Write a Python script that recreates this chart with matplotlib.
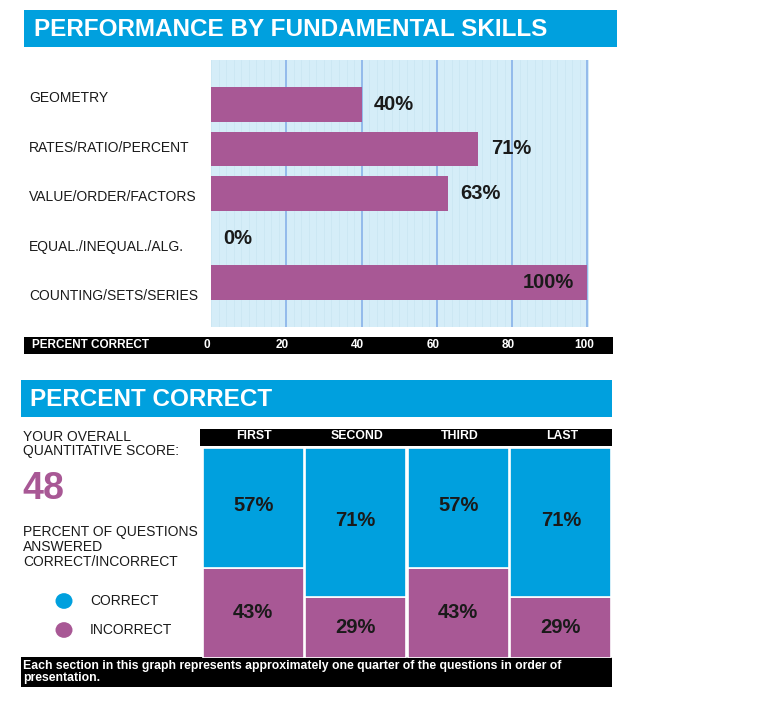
import numpy as np
import matplotlib
matplotlib.use("Agg")
import matplotlib.pyplot as plt
from matplotlib.patches import Rectangle, Circle
import matplotlib.transforms as mtransforms

plt.rcParams['font.family'] = ['Liberation Sans', 'DejaVu Sans']

# ---- data ----
skills = ['GEOMETRY', 'RATES/RATIO/PERCENT', 'VALUE/ORDER/FACTORS',
          'EQUAL./INEQUAL./ALG.', 'COUNTING/SETS/SERIES']
skill_pct = [40, 71, 63, 0, 100]
x_ticks = [0, 20, 40, 60, 80, 100]

sections = ['FIRST', 'SECOND', 'THIRD', 'LAST']
correct = [57, 71, 57, 71]
incorrect = [43, 29, 43, 29]
overall_score = 48

BLUE = '#00A0DE'
PURPLE = '#A85895'
LIGHT = '#D5EDF8'
GRID = '#8DB6EA'
TXT = '#1a1a1a'

W, H = 760, 702
fig = plt.figure(figsize=(W / 100, H / 100), dpi=100)


def rect(x0, y0, x1, y1):
    # pixel box -> figure fraction [left, bottom, width, height]
    return [x0 / W, 1 - y1 / H, (x1 - x0) / W, (y1 - y0) / H]


def fig_box(x0, y0, x1, y1, color):
    l, b, w, h = rect(x0, y0, x1, y1)
    fig.patches.append(Rectangle((l, b), w, h, transform=fig.transFigure,
                                 facecolor=color, edgecolor='none', zorder=-1))


def fig_text(x, y, s, **kw):
    fig.text(x / W, 1 - y / H, s, **kw)


# ---- top section: skills ----
fig_box(24, 10, 617, 47, BLUE)
fig_text(34, 29, 'PERFORMANCE BY FUNDAMENTAL SKILLS', color='white',
         fontsize=17.5, fontweight='bold', va='center')

ax = fig.add_axes(rect(211, 60, 589, 327))
ax.set_facecolor(LIGHT)
ypos = np.arange(len(skills))
ax.barh(ypos, skill_pct, height=0.78, color=PURPLE, zorder=3)
ax.set_xlim(0, 100.4)
ax.set_ylim(5, -1)
ax.set_xticks(x_ticks[1:])
ax.set_xticks(np.arange(0, 100, 2), minor=True)
ax.grid(axis='x', which='major', color=GRID, lw=1.3, zorder=1)
ax.grid(axis='x', which='minor', color='#CBE6F3', lw=0.6, zorder=0.5)
ax.tick_params(which='both', length=0, labelbottom=False, labelleft=False)
for s in ax.spines.values():
    s.set_visible(False)

for i, v in enumerate(skill_pct):
    if v >= 100:
        ax.annotate(f'{v}%', (v, i), xytext=(-10, 0), textcoords='offset points',
                    ha='right', va='center', fontsize=14.5, fontweight='bold',
                    color=TXT, zorder=4)
    else:
        ax.annotate(f'{v}%', (v, i), xytext=(9, 0), textcoords='offset points',
                    ha='left', va='center', fontsize=14.5, fontweight='bold',
                    color=TXT, zorder=4)

for i, name in enumerate(skills):
    fig_text(29, 98 + i * 49.6, name, fontsize=10, va='center', color=TXT)

# axis strip
fig_box(24, 337, 613, 354, 'black')
fig_text(32, 345.5, 'PERCENT CORRECT', color='white', fontsize=8.5,
         fontweight='bold', va='center')
trans = mtransforms.blended_transform_factory(ax.transData, fig.transFigure)
for t in x_ticks:
    ax.text(t - 1, 1 - 345.5 / H, str(t), transform=trans, color='white',
            fontsize=8.5, fontweight='bold', ha='center', va='center',
            clip_on=False)

# ---- bottom section: percent correct ----
fig_box(21, 380, 612, 417, BLUE)
fig_text(30, 399, 'PERCENT CORRECT', color='white', fontsize=17.5,
         fontweight='bold', va='center')

fig_text(23, 444, 'YOUR OVERALL\nQUANTITATIVE SCORE:', fontsize=10,
         va='center', color=TXT, linespacing=1.05)
fig_text(22, 489, str(overall_score), fontsize=27, fontweight='bold',
         color=PURPLE, va='center')
fig_text(23, 547, 'PERCENT OF QUESTIONS\nANSWERED\nCORRECT/INCORRECT',
         fontsize=10, va='center', color=TXT, linespacing=1.05)

for yy, col, lab in [(601, BLUE, 'CORRECT'), (630, PURPLE, 'INCORRECT')]:
    fig.patches.append(Circle((64 / W, 1 - yy / H), 8.5 / W,
                              transform=fig.transFigure, facecolor=col,
                              edgecolor='none'))
    fig_text(90, yy, lab, fontsize=10, va='center', color=TXT)

# header strip
fig_box(200, 429, 612, 446, 'black')

ax2 = fig.add_axes(rect(202, 448, 612, 658))
xs = np.arange(len(sections))
ax2.bar(xs, incorrect, width=0.985, color=PURPLE, edgecolor='white', lw=1.2)
ax2.bar(xs, correct, bottom=incorrect, width=0.985, color=BLUE,
        edgecolor='white', lw=1.2)
ax2.set_xlim(-0.5, 3.5)
ax2.set_ylim(0, 100)
ax2.axis('off')
for i in xs:
    ax2.text(i, incorrect[i] + correct[i] / 2 + 1, f'{correct[i]}%',
             ha='center', va='center', fontsize=14.5, fontweight='bold', color=TXT)
    ax2.text(i, incorrect[i] / 2, f'{incorrect[i]}%', ha='center',
             va='center', fontsize=14.5, fontweight='bold', color=TXT)

trans2 = mtransforms.blended_transform_factory(ax2.transData, fig.transFigure)
for i, name in enumerate(sections):
    ax2.text(i + 0.01, 1 - 436 / H, name, transform=trans2, color='white',
             fontsize=8.8, fontweight='bold', ha='center', va='center',
             clip_on=False)

# footer
fig_box(21, 657, 612, 687, 'black')
fig_text(23, 672, 'Each section in this graph represents approximately one '
         'quarter of the questions in order of\npresentation.',
         color='white', fontsize=8.8, fontweight='bold', va='center',
         linespacing=1.0)

fig.savefig('out.png', dpi=100, facecolor='white')
